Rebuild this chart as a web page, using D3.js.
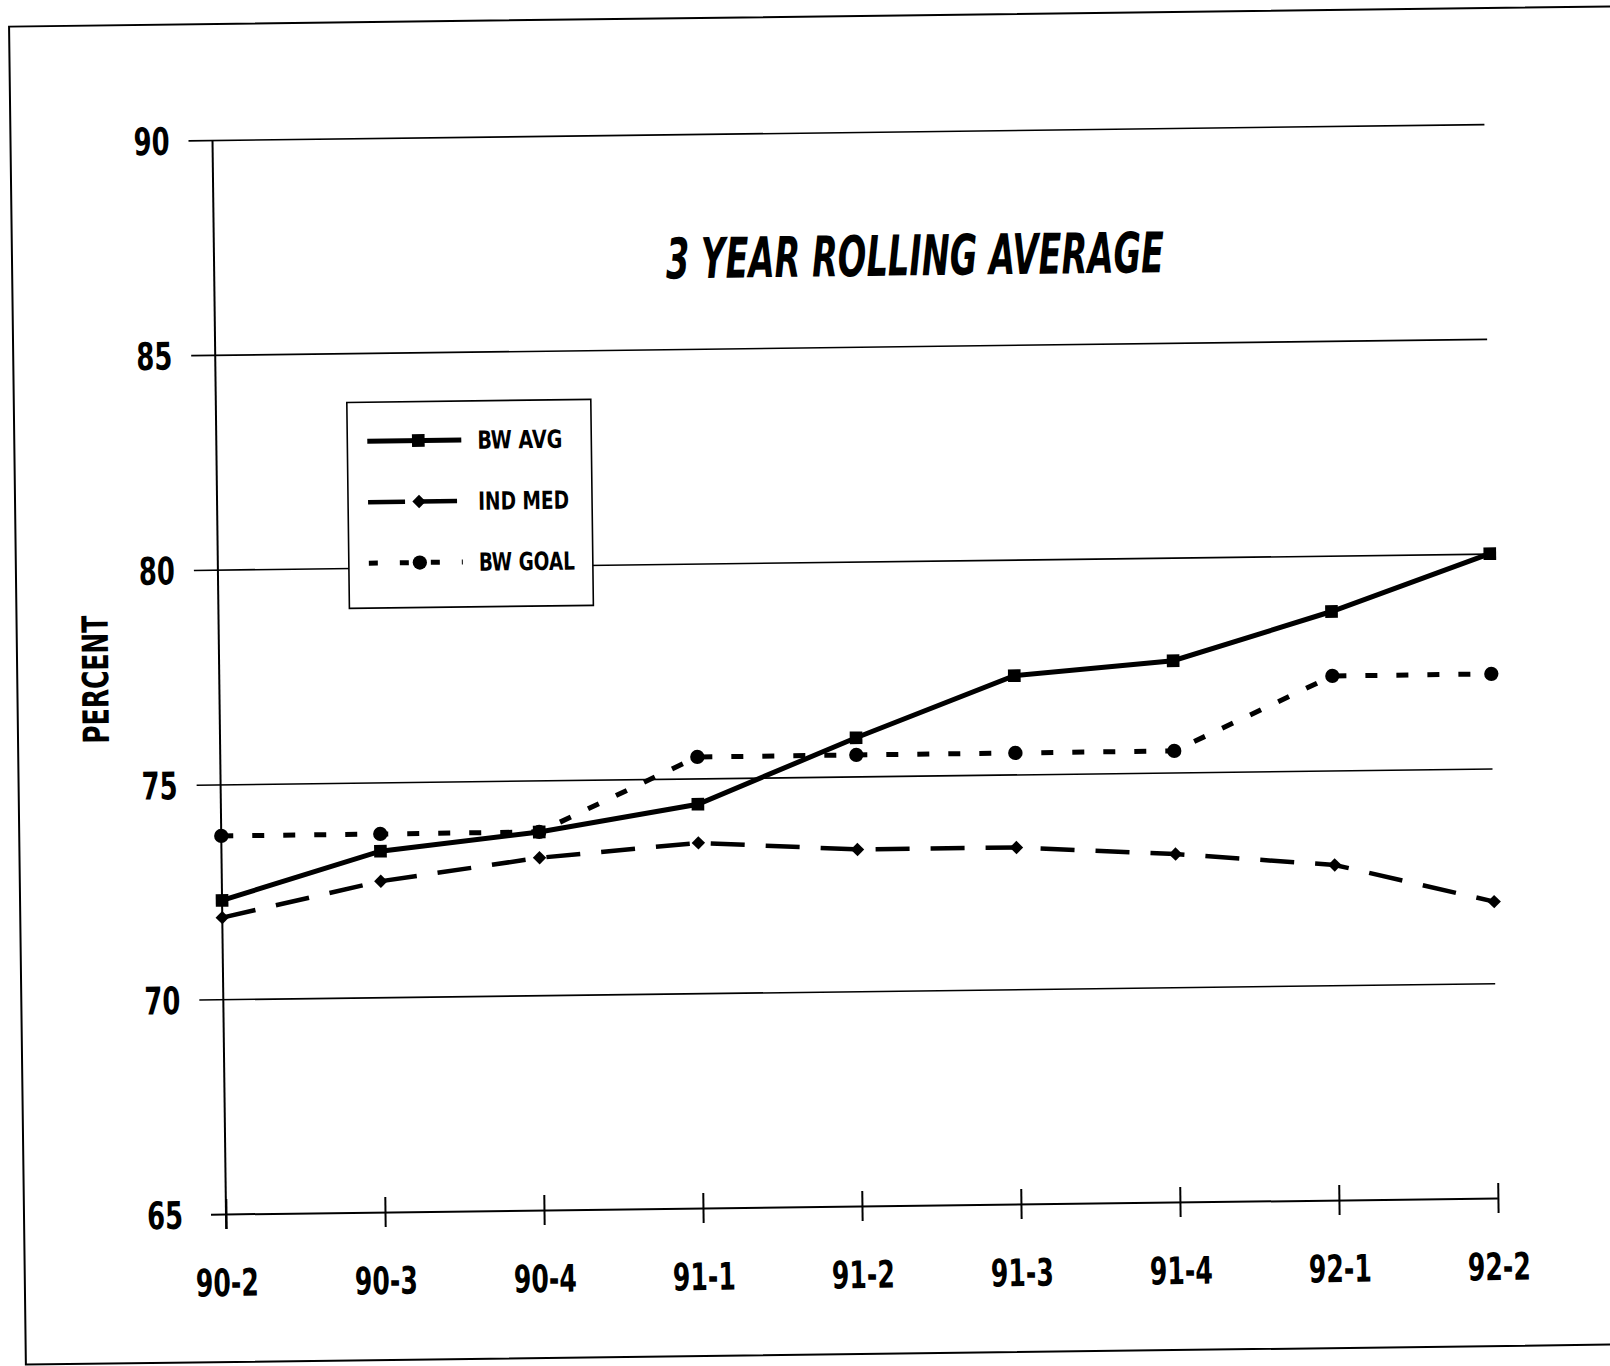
<!DOCTYPE html>
<html>
<head>
<meta charset="utf-8">
<script src="https://cdn.jsdelivr.net/npm/d3@7"></script>
<style>
  body { margin: 0; background: #fff; }
  svg text {
    font-family: "Liberation Sans Narrow", "Arial Narrow", "DejaVu Sans Condensed", sans-serif;
    font-weight: bold;
    fill: #000;
  }
</style>
</head>
<body>
<svg id="chart"></svg>
<script>
// values
const categories = ["90-2", "90-3", "90-4", "91-1", "91-2", "91-3", "91-4", "92-1", "92-2"];
const bwAvg  = [72.3, 73.4, 73.8, 74.4, 75.9, 77.3, 77.6, 78.7, 80.0];
const indMed = [71.9, 72.7, 73.2, 73.5, 73.3, 73.3, 73.1, 72.8, 71.9];
const bwGoal = [73.8, 73.8, 73.8, 75.5, 75.5, 75.5, 75.5, 77.2, 77.2];
const yTicks = [65, 70, 75, 80, 85, 90];
const seriesNames = ["BW AVG", "IND MED", "BW GOAL"];
const title = "3 YEAR ROLLING AVERAGE";
const yLabel = "PERCENT";

const width = 1610, height = 1366;
const x0 = 226, x1 = 1498, yTop = 140, yBottom = 1214;

const svg = d3.select("#chart")
    .attr("width", width)
    .attr("height", height);

// the scanned page sits a little crooked, so tilt everything the same way
const page = svg.append("g")
    .attr("transform", `rotate(-0.72, ${x0}, ${yBottom})`);

// page frame
page.append("rect")
    .attr("x", 24).attr("y", 24)
    .attr("width", 1700).attr("height", 1338)
    .attr("fill", "none")
    .attr("stroke", "#000")
    .attr("stroke-width", 2);

const x = d3.scalePoint().domain(categories).range([x0, x1]);
const y = d3.scaleLinear().domain([65, 90]).range([yBottom, yTop]);

// gridlines + y labels
const yAxis = page.append("g")
    .attr("transform", `translate(${x0},0)`)
    .call(d3.axisLeft(y).tickValues(yTicks).tickSize(-(x1 - x0)).tickPadding(43).tickFormat(d3.format("d")));
yAxis.select(".domain").remove();
yAxis.selectAll(".tick line")
    .attr("x1", d => d === 65 ? -15 : -24)
    .attr("x2", d => d === 65 ? (x1 - x0) : (x1 - x0))
    .attr("stroke", "#000")
    .attr("stroke-width", d => d === 65 ? 2 : 1.6);
yAxis.selectAll(".tick text")
    .style("font-size", "38px")
    .attr("dy", "0.36em")
    .attr("textLength", 36)
    .attr("lengthAdjust", "spacingAndGlyphs");

// vertical axis line
page.append("line")
    .attr("x1", x0).attr("x2", x0)
    .attr("y1", y(90)).attr("y2", y(65) + 15)
    .attr("stroke", "#000")
    .attr("stroke-width", 2);

// category ticks + labels
const xAxis = page.append("g")
    .attr("transform", `translate(0,${y(65)})`)
    .call(d3.axisBottom(x).tickSize(15));
xAxis.select(".domain").remove();
xAxis.selectAll(".tick line")
    .attr("y1", -15)
    .attr("stroke", "#000")
    .attr("stroke-width", 2);
xAxis.selectAll(".tick text")
    .style("font-size", "38px")
    .attr("y", 82)
    .attr("dy", 0)
    .attr("textLength", 63)
    .attr("lengthAdjust", "spacingAndGlyphs");

// series
const series = [
    { name: seriesNames[0], values: bwAvg,  dash: null,    width: 5,   symbol: d3.symbolSquare, size: 160, rotate: 0,  labelLen: 85 },
    { name: seriesNames[1], values: indMed, dash: "34,21", width: 4.5, symbol: d3.symbolSquare, size: 90,  rotate: 45, labelLen: 91 },
    { name: seriesNames[2], values: bwGoal, dash: "12,19", width: 5,   symbol: d3.symbolCircle, size: 160, rotate: 0,  labelLen: 96 }
];

const line = d3.line()
    .x((d, i) => x(categories[i]))
    .y(d => y(d));

const lines = page.append("g");

series.forEach(s => {
    lines.append("path")
        .datum(s.values)
        .attr("d", line)
        .attr("fill", "none")
        .attr("stroke", "#000")
        .attr("stroke-width", s.width)
        .attr("stroke-dasharray", s.dash);

    lines.selectAll(null)
        .data(s.values)
        .enter()
        .append("path")
        .attr("d", d3.symbol().type(s.symbol).size(s.size))
        .attr("transform", (d, i) => `translate(${x(categories[i])},${y(d)}) rotate(${s.rotate})`)
        .attr("fill", "#000");
});

// title
page.append("text")
    .attr("x", 927)
    .attr("y", 284)
    .attr("text-anchor", "middle")
    .attr("textLength", 498)
    .attr("lengthAdjust", "spacingAndGlyphs")
    .style("font-size", "56px")
    .style("font-style", "italic")
    .text(title);

// y label
page.append("text")
    .attr("transform", "translate(102,678) rotate(-90)")
    .attr("text-anchor", "middle")
    .attr("dy", "0.36em")
    .attr("textLength", 128)
    .attr("lengthAdjust", "spacingAndGlyphs")
    .style("font-size", "36px")
    .text(yLabel);

// legend
const legend = page.append("g");
legend.append("rect")
    .attr("x", 357).attr("y", 404)
    .attr("width", 244).attr("height", 206)
    .attr("fill", "#fff")
    .attr("stroke", "#000")
    .attr("stroke-width", 1.6);

const rows = legend.selectAll(".row")
    .data(series)
    .enter()
    .append("g")
    .attr("class", "row")
    .attr("transform", (d, i) => `translate(0,${443 + i * 61})`);

rows.append("line")
    .attr("x1", 377).attr("x2", 471)
    .attr("y1", 0).attr("y2", 0)
    .attr("stroke", "#000")
    .attr("stroke-width", d => d.width)
    .attr("stroke-dasharray", d => d.dash ? (d.name === "IND MED" ? "37,15" : "9,22") : null);

rows.append("path")
    .attr("d", d => d3.symbol().type(d.symbol).size(d.size)())
    .attr("transform", d => `translate(428,0) rotate(${d.rotate})`)
    .attr("fill", "#000");

rows.append("text")
    .attr("x", 487)
    .attr("y", 0)
    .attr("dy", "0.36em")
    .attr("textLength", d => d.labelLen)
    .attr("lengthAdjust", "spacingAndGlyphs")
    .style("font-size", "25px")
    .text(d => d.name);
</script>
</body>
</html>
